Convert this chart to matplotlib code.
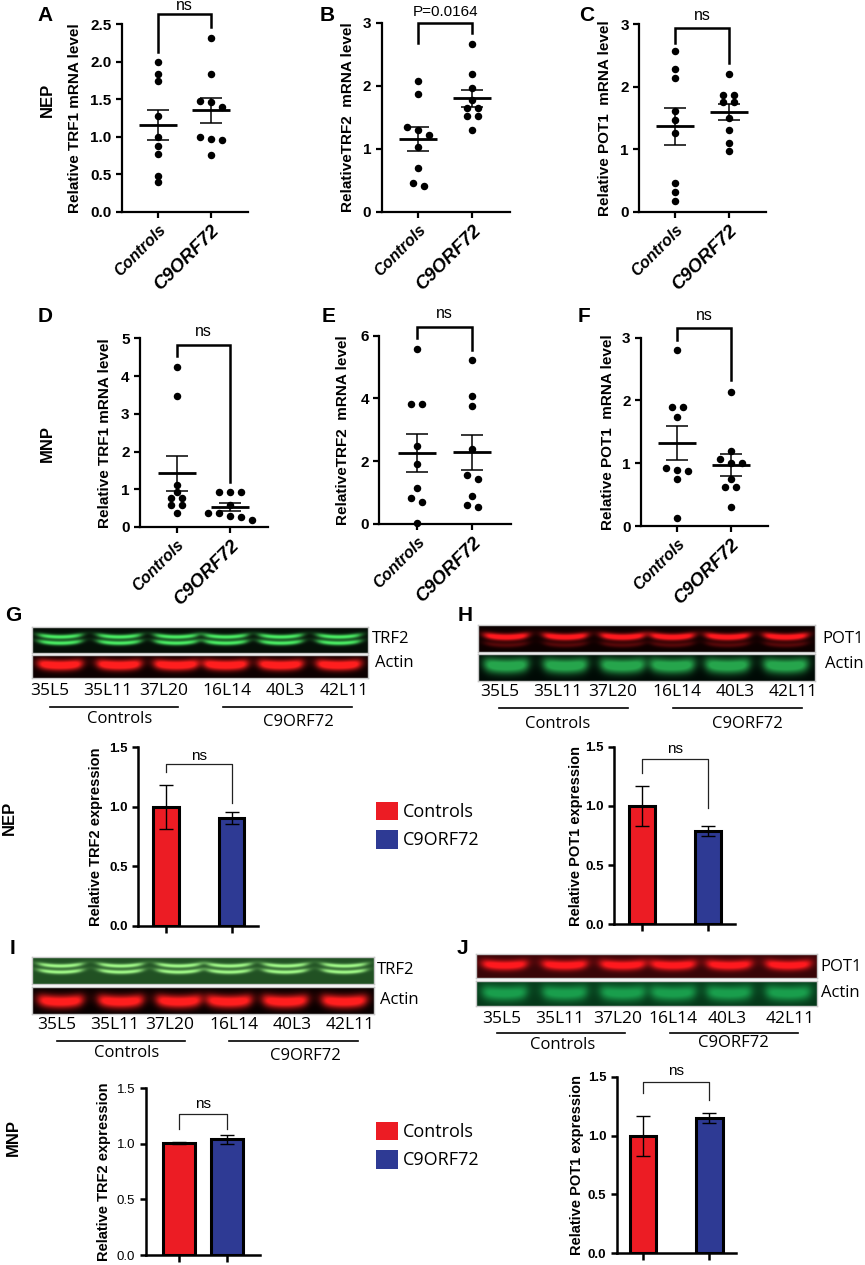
import numpy as np
import matplotlib
matplotlib.use("Agg")
import matplotlib.pyplot as plt
from matplotlib.lines import Line2D
from matplotlib.patches import Patch

# ---------------- data ----------------
groups = ["Controls", "C9ORF72"]

trf1_nep_ctrl = [1.99, 1.84, 1.74, 1.28, 1.00, 0.88, 0.77, 0.475, 0.39]
trf1_nep_c9 = [2.32, 1.84, 1.47, 1.46, 1.40, 1.00, 0.97, 0.96, 0.76]
trf2_nep_ctrl = [2.07, 1.87, 1.35, 1.30, 1.22, 1.03, 0.69, 0.46, 0.41]
trf2_nep_c9 = [2.66, 2.19, 1.96, 1.78, 1.64, 1.64, 1.52, 1.52, 1.29]
pot1_nep_ctrl = [2.57, 2.28, 2.14, 1.61, 1.47, 1.25, 0.46, 0.31, 0.17]
pot1_nep_c9 = [2.20, 1.87, 1.87, 1.76, 1.76, 1.49, 1.31, 1.10, 0.97]

trf1_mnp_ctrl = [4.23, 3.48, 1.11, 0.94, 0.78, 0.78, 0.57, 0.57, 0.36]
trf1_mnp_c9 = [0.94, 0.92, 0.92, 0.58, 0.38, 0.36, 0.30, 0.27, 0.18]
trf2_mnp_ctrl = [5.57, 3.81, 3.81, 2.49, 1.90, 1.13, 0.81, 0.68, 0.02]
trf2_mnp_c9 = [5.23, 4.08, 3.77, 2.37, 1.56, 1.42, 0.90, 0.61, 0.52]
pot1_mnp_ctrl = [2.81, 1.89, 1.89, 1.74, 0.92, 0.90, 0.87, 0.75, 0.12]
pot1_mnp_c9 = [2.14, 1.19, 1.07, 1.01, 1.01, 0.75, 0.62, 0.62, 0.30]

stat_labels = ["ns", "P=0.0164", "ns", "ns", "ns", "ns"]

wb_trf2_nep_mean = [1.00, 0.91]
wb_trf2_nep_sem = [0.185, 0.05]
wb_pot1_nep_mean = [1.00, 0.79]
wb_pot1_nep_sem = [0.17, 0.04]
wb_trf2_mnp_mean = [1.01, 1.04]
wb_trf2_mnp_sem = [0.01, 0.04]
wb_pot1_mnp_mean = [1.00, 1.15]
wb_pot1_mnp_sem = [0.17, 0.04]

lanes = ["35L5", "35L11", "37L20", "16L14", "40L3", "42L11"]

# ---------------- setup ----------------
plt.rcParams["font.family"] = ["Liberation Sans", "DejaVu Sans"]
W, H = 865, 1265
fig = plt.figure(figsize=(W / 100, H / 100), dpi=100)
RED = "#EC1C24"
BLUE = "#2E3A94"
BLOTFONT = ["Open Sans", "DejaVu Sans"]


def add_ax(x0, x1, yt, yb):
    return fig.add_axes([x0 / W, 1 - yb / H, (x1 - x0) / W, (yb - yt) / H])


def ftext(x, y, s, **kw):
    fig.text(x / W, 1 - y / H, s, **kw)


def fline(x0, x1, y, lw=1.2):
    fig.add_artist(Line2D([x0 / W, x1 / W], [1 - y / H, 1 - y / H],
                          color="black", lw=lw))


def swarm_offsets(vals, ppy, thr=5.5, step=11.0):
    vals = np.asarray(vals, float)
    order = np.argsort(-vals, kind="stable")
    offs = np.zeros(len(vals))
    clusters, cur = [], [order[0]]
    for a, b in zip(order[:-1], order[1:]):
        if (vals[a] - vals[b]) * ppy < thr:
            cur.append(b)
        else:
            clusters.append(cur)
            cur = [b]
    clusters.append(cur)
    for cl in clusters:
        n = len(cl)
        for k, idx in enumerate(cl):
            offs[idx] = (k - (n - 1) / 2) * step
    return offs


def style_axes(ax, lw=1.6):
    for s in ["top", "right"]:
        ax.spines[s].set_visible(False)
    for s in ["left", "bottom"]:
        ax.spines[s].set_linewidth(lw)
    ax.tick_params(axis="both", direction="out", length=4, width=lw)


def scatter_panel(box, ctrl, c9, ymax, yticks, fmt, ylabel, lab_right,
                  brk, stat, stat_y, xlim=(-0.68, 1.70)):
    x0, x1, yt, yb = box
    ax = add_ax(x0, x1, yt, yb)
    ax.set_xlim(xlim)
    ax.set_ylim(0, ymax)
    ppx = (x1 - x0) / (xlim[1] - xlim[0])
    ppy = (yb - yt) / ymax
    for i, vals in enumerate([ctrl, c9]):
        v = np.asarray(vals, float)
        off = swarm_offsets(v, ppy) / ppx
        ax.plot(i + off, v, "o", color="black", ms=5.4, mec="none",
                clip_on=False, zorder=3)
        m = v.mean()
        se = v.std(ddof=1) / np.sqrt(len(v))
        ax.hlines(m, i - 19 / ppx, i + 19 / ppx, color="black", lw=2.0, zorder=4)
        ax.vlines(i, m - se, m + se, color="black", lw=1.1, zorder=4)
        ax.hlines([m - se, m + se], i - 11 / ppx, i + 11 / ppx, color="black",
                  lw=1.1, zorder=4)
    style_axes(ax)
    ax.set_yticks(yticks)
    ax.set_yticklabels([fmt % t for t in yticks], fontsize=11, fontweight="bold")
    ax.set_xticks([0, 1])
    ax.set_xticklabels(groups, rotation=45, ha="right", rotation_mode="anchor",
                       fontweight="bold", fontstyle="italic")
    tl = ax.get_xticklabels()
    tl[0].set_fontsize(11.5)
    tl[1].set_fontsize(13.5)
    ax.set_ylabel(ylabel, fontsize=11, fontweight="bold")
    ax.yaxis.set_label_coords((lab_right - x0) / (x1 - x0), 0.5)
    ax.plot([0, 0, 1, 1], [brk[0], brk[1], brk[1], brk[2]], color="black",
            lw=1.8, clip_on=False, solid_joinstyle="miter")
    ax.text(0.5, stat_y, stat, ha="center", va="baseline",
            fontsize=11.5 if stat == "ns" else 11)
    return ax


def bar_panel(box, means, sems, xlim, width, ylabel, lab_right, brk, ns_y,
              bold_ticks=True):
    x0, x1, yt, yb = box
    ax = add_ax(x0, x1, yt, yb)
    ax.set_xlim(xlim)
    ax.set_ylim(0, 1.5)
    ax.bar([0, 1], means, width, color=[RED, BLUE], edgecolor="black",
           linewidth=2.2, zorder=2)
    ax.errorbar([0, 1], means, yerr=sems, fmt="none", ecolor="black",
                elinewidth=1.0, capsize=5, capthick=1.0, zorder=3)
    style_axes(ax, lw=1.8)
    ax.tick_params(axis="x", length=5)
    ax.set_yticks([0, 0.5, 1.0, 1.5])
    ax.set_yticklabels(["%.1f" % t for t in [0, 0.5, 1.0, 1.5]], fontsize=9.5,
                       fontweight="bold" if bold_ticks else "normal")
    ax.set_xticks([0, 1])
    ax.set_xticklabels([])
    ax.set_ylabel(ylabel, fontsize=10.5, fontweight="bold")
    ax.yaxis.set_label_coords((lab_right - x0) / (x1 - x0), 0.5)
    ax.plot([0, 0, 1, 1], [brk[0], brk[1], brk[1], brk[2]], color="#222222",
            lw=0.9, clip_on=False)
    ax.text(0.5, ns_y, "ns", ha="center", va="baseline", fontsize=11)
    return ax


LANE_C = [0.083, 0.259, 0.429, 0.577, 0.741, 0.914]


def blot_strip(box, bg, col, rows, hw=0.064, curve=-0.08):
    ax = add_ax(*box)
    nx, ny = 480, 60
    X, Y = np.meshgrid(np.linspace(0, 1, nx), np.linspace(0, 1, ny))
    inten = np.zeros_like(X)
    for c in LANE_C:
        hp = 1 / (1 + np.exp((np.abs(X - c) - hw) / 0.008))
        for yc, sg, a in rows:
            yy = yc + curve * ((X - c) / hw) ** 2
            inten += a * hp * np.exp(-0.5 * ((Y - yy) / sg) ** 2)
    inten = np.clip(inten, 0, 1)[..., None]
    img = np.array(bg) * (1 - inten) + np.array(col) * inten
    ax.imshow(img, aspect="auto", extent=(0, 1, 1, 0), interpolation="bilinear")
    ax.set_xticks([])
    ax.set_yticks([])
    for s in ax.spines.values():
        s.set_color("#c8c8c8")
        s.set_linewidth(1)
    return ax


def blot_labels(names, lab_pos, lane_x, lane_y, ul_y, ul, grp_pos):
    for nm, (x, y) in zip(names, lab_pos):
        ftext(x, y, nm, ha="left", va="center", fontsize=12, family=BLOTFONT)
    for lab, x in zip(lanes, lane_x):
        ftext(x, lane_y, lab, ha="center", va="center", fontsize=12.5,
              family=BLOTFONT)
    for a, b in ul:
        fline(a, b, ul_y)
    for g, (x, y) in zip(groups, grp_pos):
        ftext(x, y, g, ha="center", va="center", fontsize=12, family=BLOTFONT)


# ---------------- scatter panels ----------------
scatter_panel((121.7, 248, 24, 211.7), trf1_nep_ctrl, trf1_nep_c9, 2.5,
              [0, 0.5, 1.0, 1.5, 2.0, 2.5], "%.1f", "Relative TRF1 mRNA level",
              82.3, (2.13, 2.63, 2.46), stat_labels[0], 2.686)
scatter_panel((381.7, 510, 22.7, 211.7), trf2_nep_ctrl, trf2_nep_c9, 3,
              [0, 1, 2, 3], "%d", "RelativeTRF2  mRNA level",
              355, (2.67, 3.0, 2.83), stat_labels[1], 3.106)
scatter_panel((639.3, 765.7, 24, 211.7), pot1_nep_ctrl, pot1_nep_c9, 3,
              [0, 1, 2, 3], "%d", "Relative POT1  mRNA level",
              612, (2.69, 2.93, 2.37), stat_labels[2], 3.07)
scatter_panel((140, 268, 338.3, 527), trf1_mnp_ctrl, trf1_mnp_c9, 5,
              [0, 1, 2, 3, 4, 5], "%d", "Relative TRF1 mRNA level",
              112, (4.52, 4.83, 1.20), stat_labels[3], 5.07)
scatter_panel((379.3, 511, 335.7, 523.7), trf2_mnp_ctrl, trf2_mnp_c9, 6,
              [0, 2, 4, 6], "%d", "RelativeTRF2  mRNA level",
              350, (5.92, 6.29, 5.55), stat_labels[4], 6.58)
scatter_panel((641, 768, 337.7, 526), pot1_mnp_ctrl, pot1_mnp_c9, 3,
              [0, 1, 2, 3], "%d", "Relative POT1  mRNA level",
              615, (2.97, 3.16, 2.32), stat_labels[5], 3.28)

# ---------------- blots ----------------
blot_strip((32, 368, 627, 653), (0.02, 0.06, 0.03), (0.3, 0.95, 0.4),
           [(0.38, 0.065, 1.0), (0.62, 0.065, 1.0)])
blot_strip((32, 368, 655, 678), (0.05, 0.0, 0.0), (1.0, 0.12, 0.12),
           [(0.45, 0.16, 1.3)])
blot_labels(["TRF2", "Actin"], [(372, 639), (375, 663)],
            [50, 108, 164, 227, 285, 344], 691, 707, [(50, 178), (223, 352)],
            [(120, 719), (298, 722)])

blot_strip((478, 815, 625, 652), (0.05, 0.0, 0.0), (1.0, 0.1, 0.12),
           [(0.45, 0.09, 1.2), (0.75, 0.07, 0.3)])
blot_strip((478, 815, 654, 681), (0.0, 0.04, 0.02), (0.15, 0.65, 0.3),
           [(0.45, 0.2, 1.2)])
blot_labels(["POT1", "Actin"], [(822, 639), (825, 664)],
            [500, 558, 613, 677, 735, 793], 692, 708, [(499, 628), (673, 802)],
            [(558, 724), (747, 724)])

blot_strip((32, 374, 957, 984), (0.13, 0.32, 0.14), (0.65, 1.0, 0.55),
           [(0.33, 0.055, 1.0), (0.56, 0.055, 1.0)])
blot_strip((32, 374, 987, 1014), (0.03, 0.0, 0.0), (1.0, 0.12, 0.12),
           [(0.55, 0.17, 1.2)])
blot_labels(["TRF2", "Actin"], [(377, 970), (380, 1000)],
            [57, 115, 170, 234, 292, 350], 1025, 1041, [(57, 185), (229, 358)],
            [(127, 1053), (305, 1056)])

blot_strip((476, 817, 954, 978), (0.22, 0.02, 0.03), (1.0, 0.1, 0.12),
           [(0.5, 0.14, 1.2)])
blot_strip((476, 817, 981, 1006), (0.02, 0.22, 0.1), (0.1, 0.62, 0.3),
           [(0.5, 0.22, 1.1)])
blot_labels(["POT1", "Actin"], [(820, 967), (821, 993)],
            [502, 560, 618, 673, 727, 790], 1019, 1033, [(497, 625), (670, 798)],
            [(563, 1045), (733, 1043)])

# ---------------- bar panels ----------------
bar_panel((138.3, 258, 747.3, 926), wb_trf2_nep_mean, wb_trf2_nep_sem,
          (-0.415, 1.40), 0.39, "Relative TRF2 expression", 103.3,
          (1.295, 1.357, 1.03), 1.394)
bar_panel((614.3, 735, 746.7, 924.3), wb_pot1_nep_mean, wb_pot1_nep_sem,
          (-0.415, 1.41), 0.39, "Relative POT1 expression", 583.3,
          (1.28, 1.40, 0.98), 1.449)
bar_panel((145.7, 260, 1088.3, 1255), wb_trf2_mnp_mean, wb_trf2_mnp_sem,
          (-0.70, 1.68), 0.67, "Relative TRF2 expression", 111,
          (1.13, 1.27, 1.13), 1.32, bold_ticks=False)
bar_panel((616.7, 736, 1076.7, 1253.3), wb_pot1_mnp_mean, wb_pot1_mnp_sem,
          (-0.40, 1.40), 0.40, "Relative POT1 expression", 584,
          (1.36, 1.453, 1.30), 1.515)

# legends
for ytop in (801.7, 1121.7):
    handles = [Patch(facecolor=RED, edgecolor="none"),
               Patch(facecolor=BLUE, edgecolor="none")]
    fig.legend(handles, groups, loc="upper left",
               bbox_to_anchor=(375.7 / W, 1 - ytop / H), frameon=False,
               borderpad=0, borderaxespad=0, handlelength=1.25,
               handleheight=1.2, labelspacing=0.5, handletextpad=0.25,
               prop={"family": BLOTFONT, "size": 13})

# ---------------- panel letters and row labels ----------------
for lab, x, y in [("A", 37, 6), ("B", 320, 6), ("C", 579, 6),
                  ("D", 38, 307), ("E", 322, 307), ("F", 578, 307),
                  ("G", 5, 606), ("H", 458, 606), ("I", 10, 939),
                  ("J", 457, 939)]:
    ftext(x, y, lab, ha="left", va="top", fontsize=15, fontweight="bold")

for lab, x, y in [("NEP", 47, 100), ("MNP", 47, 444), ("NEP", 9, 818),
                  ("MNP", 13, 1137)]:
    ftext(x, y, lab, ha="center", va="center", rotation=90, fontsize=12,
          fontweight="bold")

fig.savefig("out.png", dpi=100)
